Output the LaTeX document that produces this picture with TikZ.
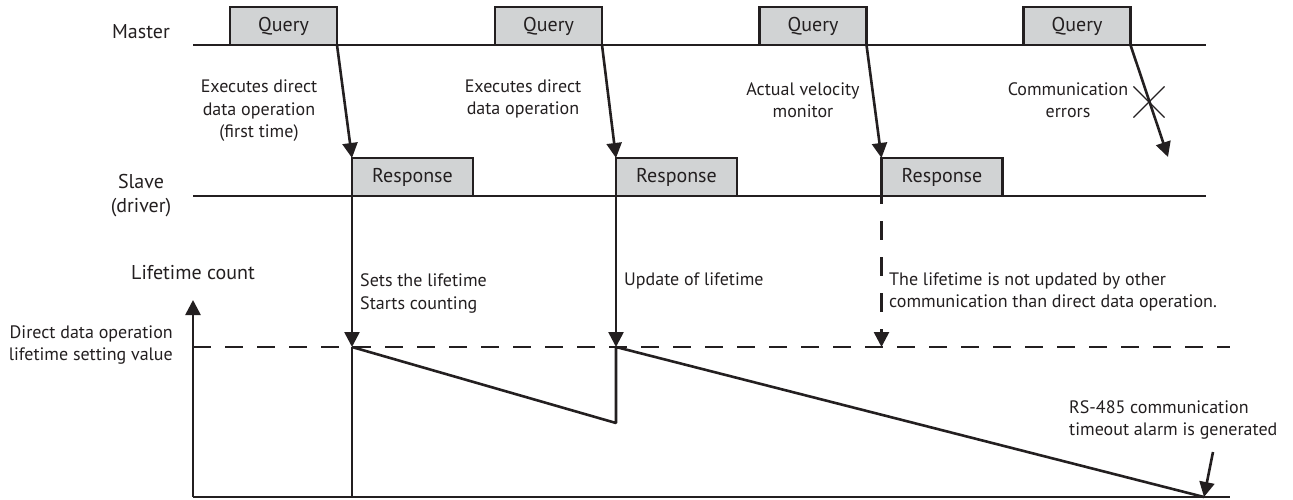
\documentclass[tikz,border=0pt]{standalone}
\usepackage{fontspec}
\setmainfont{PT Sans}
\usetikzlibrary{arrows.meta,shapes.misc}
\definecolor{ink}{HTML}{231F20}
\definecolor{boxgray}{HTML}{D1D3D4}
\begin{document}
\begin{tikzpicture}[x=1pt,y=-1pt,
  line/.style={draw=ink, line width=2.6pt},
  arr/.style={line, -{Triangle[length=15pt,width=15pt]}},
  qbox/.style={draw=ink, fill=boxgray, line width=2.6pt, minimum width=107pt, minimum height=38pt,
    inner sep=0pt, outer sep=0pt, font=\fontsize{20}{24}\selectfont, text=ink},
  rbox/.style={qbox, minimum width=121pt},
  big/.style={font=\fontsize{20}{24}\selectfont, text=ink, align=center, inner sep=0pt},
  note/.style={font=\fontsize{18}{22.5}\selectfont, text=ink, inner sep=0pt},
  dashline/.style={line, dash pattern=on 18pt off 14pt}
]
\useasboundingbox (0,0) rectangle (1293,499);

% time lines
\coordinate (mL) at (193,45);
\coordinate (mR) at (1206,45);
\coordinate (sL) at (193,196);
\coordinate (sR) at (1206,196);
\draw[line] (mL) -- (mR);
\draw[line] (sL) -- (sR);

% query boxes
\node[qbox] (q1) at (283.5,26) {Query};
\node[qbox] (q2) at (548.5,26) {Query};
\node[qbox] (q3) at (813,26) {Query};
\node[qbox] (q4) at (1077,26) {Query};

% response boxes
\node[rbox] (r1) at (412.5,177) {Response};
\node[rbox] (r2) at (676.5,177) {Response};
\node[rbox] (r3) at (942,177) {Response};

% query -> response
\draw[arr] (q1.south east) -- (r1.north west);
\draw[arr] (q2.south east) -- (r2.north west);
\draw[arr] (q3.south east) -- (r3.north west);
\coordinate (e4) at (1168,157);
\draw[arr] (q4.south east) -- (e4);
\node[cross out, draw=ink, line width=1.1pt, minimum size=30pt, inner sep=0pt] (xx) at (1149,102) {};

% labels left
\node[big] (master) at (141,32) {Master};
\node[big] (slave) at (141,196) {Slave\\(driver)};
\node[big] (ltc) at (193,273) {Lifetime count};

% annotations
\node[note, align=center] (n1) at (259,111) {Executes direct\\data operation\\(first time)};
\node[note, align=center] (n2) at (523,99) {Executes direct\\data operation};
\node[note, align=center] (n3) at (803,100) {Actual velocity\\monitor};
\node[note, align=center] (n4) at (1068,100) {Communication\\errors};

% lifetime chart axes
\coordinate (o) at (193,497);
\coordinate (ytop) at (193,300);
\coordinate (xend) at (1230,497);
\coordinate (dL) at (193,347);
\coordinate (dR) at (1230,347);
\draw[dashline] (dL) -- (dR);
\draw[arr] (o) -- (ytop);
\draw[line] (o) -- (xend);

\node[note, align=right, anchor=east] (setv) at (173,345) {Direct data operation\\lifetime setting value};

% vertical markers
\coordinate (p1) at (r1.south west |- dL);
\coordinate (p2) at (r2.south west |- dL);
\coordinate (p3) at (r3.south west |- dL);
\coordinate (b1) at (p1 |- o);
\coordinate (low) at (616,423);
\coordinate (zero) at (1204,497);
\draw[arr] (r1.south west) -- (p1);
\draw[line] (p1) -- (b1);
\draw[arr] (r2.south west) -- (p2);
\draw[arr, dash pattern=on 19pt off 17pt, dash phase=11pt] (r3.south west) -- (p3);

% sawtooth
\draw[line, line join=bevel] (p1) -- (low) -- (p2) -- (zero);

% alarm arrow
\coordinate (a0) at (1213,452);
\draw[arr] (a0) -- (zero);

\node[note, align=left, anchor=west] (t1) at (360,293.5) {Sets the lifetime\\Starts counting};
\node[note, align=left, anchor=west] (t2) at (624,281) {Update of lifetime};
\node[note, align=left, anchor=west] (t3) at (889,292) {The lifetime is not updated by other\\communication than direct data operation.};
\node[note, align=left, anchor=west] (t4) at (1069,420) {RS-485 communication\\timeout alarm is generated};
\end{tikzpicture}
\end{document}
